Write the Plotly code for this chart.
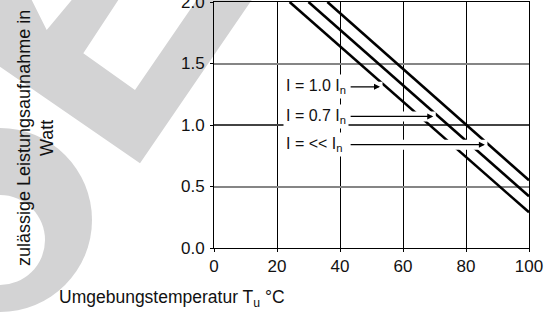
import plotly.graph_objects as go

# ---------------- data ----------------
temp_i10 = [24, 100]          # I = 1.0 In
power_i10 = [2.0, 0.29]
temp_i07 = [30, 100]          # I = 0.7 In
power_i07 = [2.0, 0.42]
temp_ill = [36, 100]          # I = << In
power_ill = [2.0, 0.55]

label_texts = ["I = 1.0 I<sub>n</sub>", "I = 0.7 I<sub>n</sub>", "I = &lt;&lt; I<sub>n</sub>"]
x_ticks = [0, 20, 40, 60, 80, 100]
y_ticks = [0.0, 0.5, 1.0, 1.5, 2.0]

# ---------------- layout constants ----------------
W, H = 544, 313
L, R, T, B = 214, 15, 2, 65
PW, PH = W - L - R, H - T - B

label_x = 21.9
label_y = [1.31, 1.07, 0.84]
arrow_tail = 42.9
arrow_tip = [52.7, 69.6, 86.0]

FONT = "Liberation Sans, Arial, sans-serif"
WM = "#d3d3d4"


def pp(x, y):
    """pixel -> paper coordinates"""
    return (x - L) / PW, (H - B - y) / PH


fig = go.Figure()
for xs, ys in [(temp_i10, power_i10), (temp_i07, power_i07), (temp_ill, power_ill)]:
    fig.add_trace(go.Scatter(x=xs, y=ys, mode="lines",
                             line=dict(color="black", width=2.6),
                             showlegend=False, hoverinfo="skip"))

shapes = []
# watermark polygon
poly = [(0, 0), (31.7, 0), (46.7, 30), (71.7, 0), (118.3, 0), (83.3, 53.3), (135, 90),
        (196.7, 0), (251.7, 0), (140, 163.3), (0, 66.7)]
path = "M " + " L ".join("%.4f,%.4f" % pp(x, y) for x, y in poly) + " Z"
shapes.append(dict(type="path", path=path, xref="paper", yref="paper",
                   fillcolor=WM, line=dict(width=0), layer="below"))
# ring
for (cx, cy, r, col) in [(0, 220, 92, WM), (0, 240, 45, "white")]:
    x0, y0 = pp(cx - r, cy + r)
    x1, y1 = pp(cx + r, cy - r)
    shapes.append(dict(type="circle", xref="paper", yref="paper", x0=x0, y0=y0, x1=x1, y1=y1,
                       fillcolor=col, line=dict(width=0), layer="below"))
# black grid line at 1.0
shapes.append(dict(type="line", xref="x", yref="y", x0=0, x1=100, y0=1.0, y1=1.0,
                   line=dict(color="black", width=1), layer="between"))
# white halos behind arrows
for yv, tip in zip(label_y, arrow_tip):
    shapes.append(dict(type="line", xref="x", yref="y", x0=arrow_tail, x1=tip + 0.8, y0=yv, y1=yv,
                       line=dict(color="white", width=10), layer="above"))

annotations = []
for txt, yv, tip in zip(label_texts, label_y, arrow_tip):
    annotations.append(dict(x=label_x, y=yv, xref="x", yref="y", text=txt, showarrow=False,
                            xanchor="left", yanchor="middle", bgcolor="white", borderpad=2,
                            font=dict(family=FONT, size=16, color="#111")))
    annotations.append(dict(x=tip, y=yv, xref="x", yref="y", ax=arrow_tail, ay=yv,
                            axref="x", ayref="y", text="", showarrow=True,
                            arrowhead=2, arrowsize=1, arrowwidth=1.2, arrowcolor="black", standoff=0))

xt, yt = pp(57, 298)
annotations.append(dict(x=xt, y=yt, xref="paper", yref="paper", xanchor="left", yanchor="middle",
                        text="Umgebungstemperatur T<sub>u</sub> °C", showarrow=False,
                        font=dict(family=FONT, size=17.5, color="#111")))
xt, yt = pp(35, 138)
annotations.append(dict(x=xt, y=yt, xref="paper", yref="paper", xanchor="center", yanchor="middle",
                        text="zulässige Leistungsaufnahme in<br>Watt", showarrow=False, textangle=-90,
                        font=dict(family=FONT, size=18, color="#111")))

fig.update_layout(
    width=W, height=H, margin=dict(l=L, r=R, t=T, b=B, pad=0, autoexpand=False),
    paper_bgcolor="white", plot_bgcolor="rgba(0,0,0,0)",
    shapes=shapes, annotations=annotations,
    font=dict(family=FONT, size=16, color="#111"),
    xaxis=dict(range=[0, 100], tickvals=x_ticks, showgrid=True, gridcolor="black", gridwidth=1,
               zeroline=False, showline=True, mirror=True, linecolor="black", linewidth=1,
               ticks="outside", ticklen=3, tickcolor="black", tickwidth=1, automargin=False,
               ticklabeloverflow="allow",
               tickfont=dict(family=FONT, size=17, color="#111")),
    yaxis=dict(range=[0, 2], tickvals=y_ticks, tickformat=".1f", showgrid=True,
               gridcolor="#858585", gridwidth=2,
               zeroline=False, showline=True, mirror=True, linecolor="black", linewidth=1,
               ticks="outside", ticklen=3, tickcolor="black", tickwidth=1, automargin=False,
               ticklabeloverflow="allow", ticklabelstandoff=2,
               tickfont=dict(family=FONT, size=17, color="#111")),
)

fig.write_html("out.html", config={"displayModeBar": False, "staticPlot": True},
               post_script="document.body.style.margin='0';document.body.style.overflow='hidden';")
